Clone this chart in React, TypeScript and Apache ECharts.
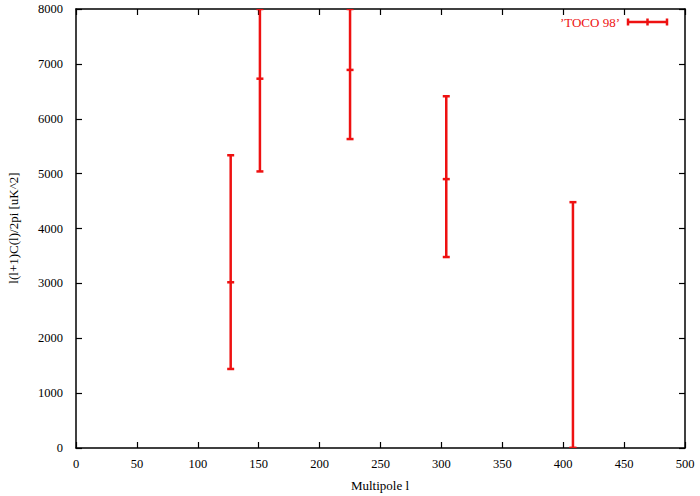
import React, { useEffect, useRef } from "react";
import * as echarts from "echarts";

const multipoles = [127, 151, 225, 304, 408];
const centers = [3020, 6730, 6890, 4900, 0];
const lows = [1440, 5040, 5630, 3480, 0];
const highs = [5335, 8000, 8000, 6410, 4480];
const seriesName = "’TOCO 98’";

const RED = "#ee1111";
const FONT = "'Liberation Serif', 'DejaVu Serif', serif";

export default function App() {
  const ref = useRef<HTMLDivElement>(null);
  useEffect(() => {
    document.body.style.margin = "0";
    if (!ref.current) return;
    const chart = echarts.init(ref.current, undefined, { renderer: "svg" });
    const data = multipoles.map((x, i) => [x, centers[i], lows[i], highs[i]]);
    const axisCommon = {
      axisLine: { show: true, onZero: false, lineStyle: { color: "#000", width: 1.5 } },
      axisTick: { show: true, inside: true, length: 6, lineStyle: { color: "#000", width: 1.2 } },
      splitLine: { show: false },
    };
    const fmt = (v: number) => String(v);
    const option: any = {
      animation: false,
      backgroundColor: "#fff",
      textStyle: { fontFamily: FONT },
      grid: { left: 76, right: 15, top: 9, bottom: 48, containLabel: false },
      xAxis: [
        {
          type: "value", min: 0, max: 500, interval: 50, position: "bottom",
          ...axisCommon,
          axisLabel: { color: "#000", fontSize: 12.5, fontFamily: FONT, margin: 9, formatter: fmt },
        },
        {
          type: "value", min: 0, max: 500, interval: 50, position: "top",
          ...axisCommon,
          axisLabel: { show: false },
        },
      ],
      yAxis: [
        {
          type: "value", min: 0, max: 8000, interval: 1000, position: "left",
          ...axisCommon,
          axisLabel: { color: "#000", fontSize: 12.5, fontFamily: FONT, margin: 13, formatter: fmt },
        },
        {
          type: "value", min: 0, max: 8000, interval: 1000, position: "right",
          ...axisCommon,
          axisLabel: { show: false },
        },
      ],
      series: [
        {
          type: "custom",
          name: seriesName,
          clip: true,
          xAxisIndex: 0,
          yAxisIndex: 0,
          data,
          renderItem: (params: any, api: any) => {
            const x = api.value(0);
            const pC = api.coord([x, api.value(1)]);
            const pL = api.coord([x, api.value(2)]);
            const pH = api.coord([x, api.value(3)]);
            const w = 3.5;
            const st = { stroke: RED, lineWidth: 2.5 };
            return {
              type: "group",
              children: [
                { type: "line", shape: { x1: pL[0], y1: pL[1], x2: pH[0], y2: pH[1] }, style: st },
                { type: "line", shape: { x1: pL[0] - w, y1: pL[1], x2: pL[0] + w, y2: pL[1] }, style: st },
                { type: "line", shape: { x1: pH[0] - w, y1: pH[1], x2: pH[0] + w, y2: pH[1] }, style: st },
                { type: "line", shape: { x1: pC[0] - w, y1: pC[1], x2: pC[0] + w, y2: pC[1] }, style: st },
              ],
            };
          },
        },
      ],
      graphic: [
        {
          type: "text", x: 620, y: 22,
          style: { text: seriesName, fill: RED, font: `13px ${FONT}`, textAlign: "right", textVerticalAlign: "middle" },
        },
        { type: "line", shape: { x1: 628, y1: 22, x2: 667, y2: 22 }, style: { stroke: RED, lineWidth: 2.5 } },
        { type: "line", shape: { x1: 628, y1: 18.5, x2: 628, y2: 25.5 }, style: { stroke: RED, lineWidth: 2.5 } },
        { type: "line", shape: { x1: 667, y1: 18.5, x2: 667, y2: 25.5 }, style: { stroke: RED, lineWidth: 2.5 } },
        { type: "line", shape: { x1: 647.5, y1: 18.5, x2: 647.5, y2: 25.5 }, style: { stroke: RED, lineWidth: 2.5 } },
        {
          type: "text", x: 380, y: 485,
          style: { text: "Multipole l", fill: "#000", font: `13px ${FONT}`, textAlign: "center", textVerticalAlign: "middle" },
        },
        {
          type: "text", x: 13, y: 228, rotation: Math.PI / 2,
          style: { text: "l(l+1)C(l)/2pi [uK^2]", fill: "#000", font: `13px ${FONT}`, textAlign: "center", textVerticalAlign: "middle" },
        },
      ],
    };
    chart.setOption(option);
    return () => chart.dispose();
  }, []);
  return <div ref={ref} style={{ width: 700, height: 496 }} />;
}
